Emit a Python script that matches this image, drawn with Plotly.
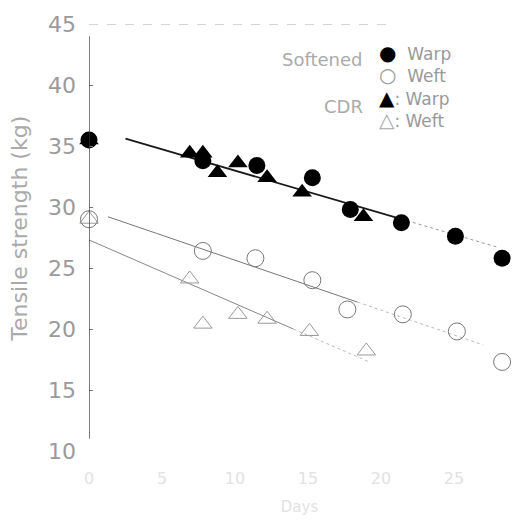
import plotly.graph_objects as go

# ---- data ----
soft_warp_x = [0, 7.8, 11.5, 15.3, 17.9, 21.4, 25.1, 28.3]
soft_warp_y = [35.5, 33.8, 33.4, 32.4, 29.8, 28.7, 27.6, 25.8]

soft_weft_x = [0, 7.8, 11.4, 15.3, 17.7, 21.5, 25.2, 28.3]
soft_weft_y = [29.0, 26.4, 25.8, 24.0, 21.6, 21.2, 19.8, 17.3]

cdr_warp_x = [0, 6.9, 7.8, 8.8, 10.2, 12.2, 14.6, 18.8]
cdr_warp_y = [35.5, 34.4, 34.4, 32.8, 33.6, 32.4, 31.2, 29.2]

cdr_weft_x = [0, 6.9, 7.8, 10.2, 12.2, 15.1, 19.0]
cdr_weft_y = [29.0, 24.1, 20.4, 21.2, 20.8, 19.8, 18.2]

# fitted trend lines (solid part, faded part)
warp_line_x = [2.5, 21.0, 28.0]
warp_line_y = [35.6, 29.15, 26.7]
soft_weft_line_x = [1.3, 18.4, 27.0]
soft_weft_line_y = [29.2, 22.2, 18.7]
cdr_weft_line_x = [0, 14.0, 19.2]
cdr_weft_line_y = [27.3, 20.0, 17.3]

y_ticks = [10, 15, 20, 25, 30, 35, 40, 45]
x_ticks = [0, 5, 10, 15, 20, 25]

FONT = "DejaVu Sans"

fig = go.Figure()

def add_line(xs, ys, c_solid, w_solid, c_faint):
    fig.add_trace(go.Scatter(x=xs[:2], y=ys[:2], mode="lines",
                             line=dict(color=c_solid, width=w_solid),
                             showlegend=False, hoverinfo="skip"))
    fig.add_trace(go.Scatter(x=xs[1:], y=ys[1:], mode="lines",
                             line=dict(color=c_faint, width=1, dash="dot"),
                             showlegend=False, hoverinfo="skip"))

add_line(warp_line_x, warp_line_y, "#1a1a1a", 1.8, "#999999")
add_line(soft_weft_line_x, soft_weft_line_y, "#777777", 1, "#bbbbbb")
add_line(cdr_weft_line_x, cdr_weft_line_y, "#888888", 1, "#bbbbbb")

fig.add_trace(go.Scatter(x=cdr_weft_x, y=cdr_weft_y, mode="markers",
                         marker=dict(symbol="triangle-up-open", size=16,
                                     color="#999999", line=dict(width=1)),
                         cliponaxis=False, showlegend=False))
fig.add_trace(go.Scatter(x=soft_weft_x, y=soft_weft_y, mode="markers",
                         marker=dict(symbol="circle-open", size=17,
                                     color="#777777", line=dict(width=1)),
                         cliponaxis=False, showlegend=False))
fig.add_trace(go.Scatter(x=cdr_warp_x, y=cdr_warp_y, mode="markers",
                         marker=dict(symbol="triangle-up", size=17,
                                     color="#000000"),
                         cliponaxis=False, showlegend=False))
fig.add_trace(go.Scatter(x=soft_warp_x, y=soft_warp_y, mode="markers",
                         marker=dict(symbol="circle", size=17,
                                     color="#000000"),
                         cliponaxis=False, showlegend=False))

# axis frame lines
fig.add_shape(type="line", xref="x", yref="y", x0=0, x1=0, y0=11.0, y1=44.0,
              line=dict(color="#333333", width=1.3))
fig.add_shape(type="line", xref="x", yref="y", x0=0, x1=20.6, y0=45, y1=45,
              line=dict(color="#aaaaaa", width=1, dash="dash"))

# legend (as text): group label + one two-line block of symbol/name
W, H = 526, 525
legend_groups = [
    # (label, label y px, block centre y px, block text)
    ("Softened", 44, 49,
     "<span style='color:#000;font-size:20px'>●</span>  Warp<br>"
     "<span style='color:#999;font-size:20px'>○</span>  Weft"),
    ("CDR", 102, 104,
     "<span style='color:#000;font-size:20px'>▲</span>: Warp<br>"
     "<span style='color:#aaa;font-size:20px'>△</span>: Weft"),
]
for lab, ly, cy, block in legend_groups:
    fig.add_annotation(xref="paper", yref="paper", x=345 / W, y=1 - ly / H,
                       text=lab, showarrow=False, xanchor="right",
                       yanchor="middle",
                       font=dict(family=FONT, size=18, color="#aaaaaa"))
    fig.add_annotation(xref="paper", yref="paper", x=360 / W, y=1 - cy / H,
                       text=block, showarrow=False, xanchor="left",
                       yanchor="middle", align="left",
                       font=dict(family=FONT, size=17, color="#999999"))

fig.update_layout(
    width=W, height=H,
    margin=dict(l=89, r=16, t=15, b=73),
    paper_bgcolor="white", plot_bgcolor="white",
    font=dict(family=FONT),
    showlegend=False,
    xaxis=dict(range=[0, 28.84], showgrid=False, zeroline=False,
               showline=False, tickvals=x_ticks,
               ticktext=[str(v) for v in x_ticks],
               ticks="", ticklabelstandoff=16,
               tickfont=dict(size=16, color="#e2e2e2"),
               title=dict(text="Days", font=dict(size=15, color="#e2e2e2"),
                          standoff=14)),
    yaxis=dict(range=[10, 45], showgrid=False, zeroline=False,
               showline=False, tickvals=y_ticks,
               ticktext=[str(v) for v in y_ticks],
               ticks="inside", ticklen=4, tickcolor="#777777",
               ticklabelstandoff=12,
               tickfont=dict(size=22, color="#9a9a9a")),
)

fig.add_annotation(xref="paper", yref="paper", x=-69 / 421, y=(452.5 - 225) / 437,
                   text="Tensile strength (kg)", textangle=-90,
                   showarrow=False, xanchor="center", yanchor="middle",
                   font=dict(family=FONT, size=22, color="#aaaaaa"))

fig.write_html("out.html")
